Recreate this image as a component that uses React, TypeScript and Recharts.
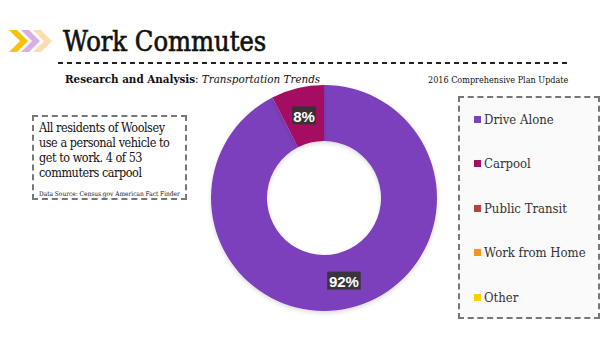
import * as React from "react";
import { PieChart, Pie, Cell, Legend } from "recharts";

const categories = ["Drive Alone", "Carpool", "Public Transit", "Work from Home", "Other"];
const commuters = [49, 4, 0, 0, 0];
const colors = ["#7C41BD", "#A50E62", "#B4443F", "#F7941D", "#FFCC0D"];

const noteLines = [
  "All residents of Woolsey",
  "use a personal vehicle to",
  "get to work. 4 of 53",
  "commuters carpool",
];

const chartData = categories.map((name, i) => ({ name, value: commuters[i] }));

const SLAB = "'DejaVu Serif', serif";
const RAD = Math.PI / 180;

const renderLabel = (props: any) => {
  const { cx, cy, midAngle, innerRadius, outerRadius, percent, value } = props;
  if (!value) return null;
  const r = (innerRadius + outerRadius) / 2;
  const x = cx + r * Math.cos(-midAngle * RAD);
  const y = cy + r * Math.sin(-midAngle * RAD);
  const text = `${Math.round(percent * 100)}%`;
  const w = text.length * 9.5 + 5;
  return (
    <g>
      <rect x={x - w / 2} y={y - 9} width={w} height={18} fill="#333333" opacity={0.92} />
      <text x={x} y={y + 1} fill="#fff" fontSize={15} fontWeight="bold"
        fontFamily="'Liberation Sans', Arial, sans-serif"
        textAnchor="middle" dominantBaseline="central">{text}</text>
    </g>
  );
};

const renderLegend = () => (
  <div style={{
    width: 142, height: 223, boxSizing: "border-box", border: "2px dashed #777",
    background: "#fafafa", position: "relative",
  }}>
    {categories.map((c, i) => (
      <div key={c} style={{
        position: "absolute", left: 14, top: 14 + i * 44.4, display: "flex",
        alignItems: "center", fontFamily: SLAB, fontStretch: "condensed", fontSize: 13, color: "#333",
      }}>
        <span style={{ width: 7, height: 7, background: colors[i], marginRight: 3, display: "inline-block" }} />
        {c}
      </div>
    ))}
  </div>
);

const Chevron = ({ x0, fill }: { x0: number; fill: string }) => (
  <polygon
    points={`${x0},30 ${x0 + 8},30 ${x0 + 19},41 ${x0 + 8},52 ${x0},52 ${x0 + 11},41`}
    fill={fill}
  />
);

export default function App() {
  return (
    <div style={{ position: "absolute", left: 0, top: 0, width: 614, height: 357, background: "#fff", overflow: "hidden" }}>
      <svg width={614} height={70} style={{ position: "absolute", left: 0, top: 0 }}>
        <Chevron x0={33} fill="#FBDDB0" />
        <Chevron x0={21} fill="#D9AEE3" />
        <Chevron x0={9} fill="#F9C00C" />
        <line x1={58} y1={63} x2={571} y2={63} stroke="#222" strokeWidth={2} strokeDasharray="5 4" />
      </svg>
      <div style={{
        position: "absolute", left: 63, top: 26, fontFamily: SLAB, fontStretch: "condensed", fontSize: 27,
        color: "#111", lineHeight: "32px", WebkitTextStroke: "0.6px #111",
      }}>
        Work Commutes
      </div>
      <div style={{ position: "absolute", left: 65, top: 72, fontFamily: SLAB, fontStretch: "condensed", fontSize: 11.5, color: "#111", lineHeight: "15px" }}>
        <b>Research and Analysis</b>: <i>Transportation Trends</i>
      </div>
      <div style={{ position: "absolute", left: 428, top: 74, fontFamily: SLAB, fontStretch: "condensed", fontSize: 9, color: "#111", lineHeight: "12px" }}>
        2016 Comprehensive Plan Update
      </div>
      <div style={{
        position: "absolute", left: 32, top: 115, width: 155, height: 85, boxSizing: "border-box",
        border: "2px dashed #777", padding: "3px 0 0 5px", fontFamily: SLAB, fontStretch: "condensed", color: "#111",
      }}>
        {noteLines.map((l) => (
          <div key={l} style={{ fontSize: 12.5, lineHeight: "15px", letterSpacing: -0.45 }}>{l}</div>
        ))}
        <div style={{ fontSize: 6.5, lineHeight: "9px", marginTop: 10 }}>Data Source: Census.gov American Fact Finder</div>
      </div>
      <PieChart width={614} height={357} margin={{ top: 0, right: 0, bottom: 0, left: 0 }}
        style={{ position: "absolute", left: 0, top: 0 }}>
        <defs>
          <filter id="sh" x="-20%" y="-20%" width="140%" height="140%">
            <feDropShadow dx="0" dy="2" stdDeviation="2" floodColor="#000" floodOpacity="0.15" />
          </filter>
        </defs>
        <Pie
          data={chartData}
          dataKey="value"
          nameKey="name"
          cx={324}
          cy={198}
          innerRadius={57}
          outerRadius={113}
          startAngle={90}
          endAngle={-270}
          stroke="none"
          label={renderLabel}
          labelLine={false}
          isAnimationActive={false}
          style={{ filter: "url(#sh)" }}
        >
          {chartData.map((d, i) => (
            <Cell key={d.name} fill={colors[i]} />
          ))}
        </Pie>
        <Legend
          content={renderLegend}
          wrapperStyle={{ position: "absolute", left: 458, top: 96, width: 142, height: 223 }}
        />
      </PieChart>
    </div>
  );
}
